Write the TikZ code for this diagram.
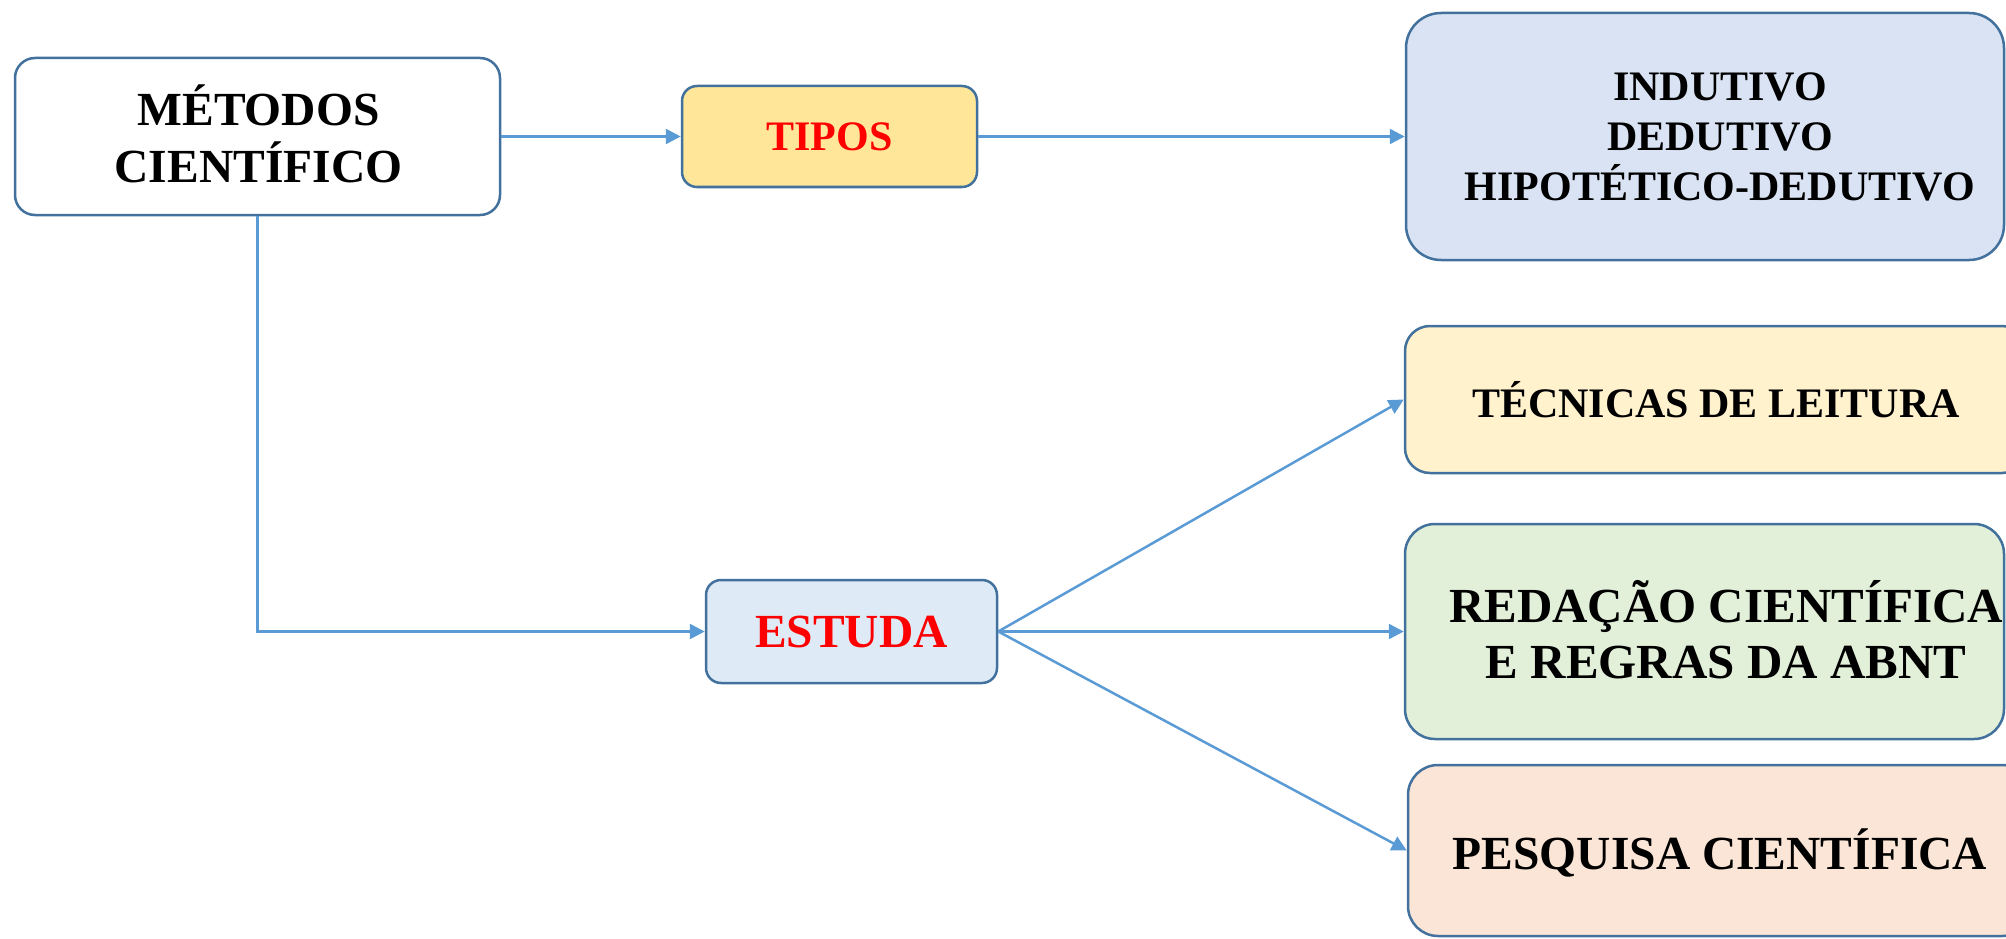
\documentclass[tikz,border=0pt]{standalone}
\usepackage{fontspec}
\setmainfont{Liberation Serif}
\usetikzlibrary{arrows.meta}

\definecolor{boxline}{HTML}{41719C}
\definecolor{linkblue}{HTML}{5B9BD5}
\definecolor{fillyellow}{HTML}{FFE699}
\definecolor{fillblue}{HTML}{DAE3F3}
\definecolor{fillcream}{HTML}{FFF2CC}
\definecolor{fillgreen}{HTML}{E2F0D9}
\definecolor{fillpeach}{HTML}{FBE5D6}
\definecolor{filllight}{HTML}{DEEBF7}
\definecolor{labelred}{HTML}{FF0000}

\tikzset{
  box/.style={draw=boxline, line width=2.5pt, rectangle, inner sep=0pt},
  lbl/.style={font=\bfseries, align=center, inner sep=0pt},
  link/.style={draw=linkblue, line width=2.5pt, -{Triangle[length=15pt,width=15pt]}},
}

\begin{document}
\begin{tikzpicture}[x=1pt, y=-1pt]
  \useasboundingbox (0,0) rectangle (2006,939);
  \clip (0,0) rectangle (2006,939);

  % left column and middle boxes
  \node[box, fill=white, rounded corners=20pt, minimum width=485pt, minimum height=157pt]
    (met) at (257.5,136.5) {};
  \node[lbl, font=\fontsize{47.5}{57}\selectfont\bfseries] (mettxt) at (258.5,133.5)
    {MÉTODOS\\CIENTÍFICO};

  \node[box, fill=fillyellow, rounded corners=15pt, minimum width=295pt, minimum height=101pt]
    (tip) at (829.5,136.5) {};
  \node[lbl, text=labelred, font=\fontsize{42}{50}\selectfont\bfseries] (tiptxt) at (829.5,137) {TIPOS};

  \node[box, fill=filllight, rounded corners=15pt, minimum width=291pt, minimum height=103pt]
    (est) at (851.5,631.5) {};
  \node[lbl, text=labelred, font=\fontsize{47.5}{57}\selectfont\bfseries] (esttxt) at (851.5,632) {ESTUDA};

  % right column boxes
  \node[box, fill=fillblue, rounded corners=35pt, minimum width=598pt, minimum height=247pt]
    (ind) at (1705,136.5) {};
  \node[lbl, font=\fontsize{42}{50}\selectfont\bfseries] (indtxt) at (1720,137)
    {INDUTIVO\\DEDUTIVO\\HIPOTÉTICO-DEDUTIVO};

  \node[box, fill=fillcream, rounded corners=25pt, minimum width=622pt, minimum height=147pt]
    (tec) at (1716,399.5) {};
  \node[lbl, font=\fontsize{42}{50}\selectfont\bfseries] (tectxt) at (1716,400) {TÉCNICAS DE LEITURA};

  \node[box, fill=fillgreen, rounded corners=30pt, minimum width=599pt, minimum height=215pt]
    (red) at (1704.5,631.5) {};
  \node[lbl, font=\fontsize{49}{56}\selectfont\bfseries] (redtxt) at (1726,630)
    {REDAÇÃO CIENTÍFICA\\E REGRAS DA ABNT};

  \node[box, fill=fillpeach, rounded corners=30pt, minimum width=624pt, minimum height=171pt]
    (pes) at (1720,850.5) {};
  \node[lbl, font=\fontsize{47.5}{57}\selectfont\bfseries] (pestxt) at (1720,853) {PESQUISA CIENTÍFICA};

  % connectors
  \draw[link] (met.east) -- (tip.west);
  \draw[link] (tip.east) -- (ind.west);
  \draw[link] (met.south) |- (est.west);
  \draw[link] (est.east) -- (tec.west);
  \draw[link] (est.east) -- (red.west);
  \draw[link] (est.east) -- (pes.west);
\end{tikzpicture}
\end{document}
